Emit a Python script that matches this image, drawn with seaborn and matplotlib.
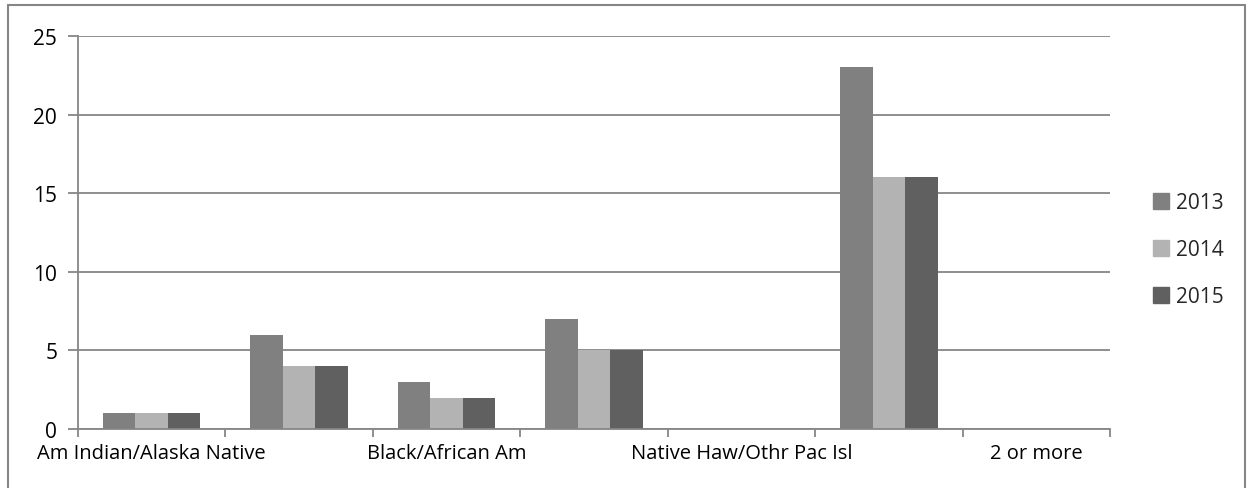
import matplotlib
matplotlib.use('Agg')
import matplotlib.pyplot as plt
import matplotlib.patches as mpatches
import seaborn as sns
import pandas as pd
import numpy as np

# --- datos ---
etiquetas = ['Am Indian/Alaska Native', '', 'Black/African Am', '',
             'Native Haw/Othr Pac Isl', '', '2 or more']
anios = ['2013', '2014', '2015']
v2013 = [1, 6, 3, 7, 0, 23, 0]
v2014 = [1, 4, 2, 5, 0, 16, 0]
v2015 = [1, 4, 2, 5, 0, 16, 0]
colores = ['#808080', '#b3b3b3', '#606060']

filas = []
for anio, serie in zip(anios, [v2013, v2014, v2015]):
    for i, v in enumerate(serie):
        filas.append({'cat': i, 'anio': anio, 'valor': v})
df = pd.DataFrame(filas)

sns.set_style('white')
plt.rcParams['font.family'] = ['Open Sans', 'DejaVu Sans']

fig = plt.figure(figsize=(12.53, 4.89), dpi=100)
ax = fig.add_axes([78 / 1253, 1 - 430 / 489, (1110 - 78) / 1253, (430 - 37) / 489])

sns.barplot(data=df, x='cat', y='valor', hue='anio', hue_order=anios,
            palette=colores, width=0.66, gap=0, saturation=1,
            linewidth=0, ax=ax)

gris = '#868686'
ax.set_ylim(0, 25)
ax.set_xlim(-0.5, len(etiquetas) - 0.5)
ax.set_yticks(np.arange(0, 26, 5))
ax.yaxis.grid(True, color=gris, linewidth=1.3)
ax.set_axisbelow(True)

# ticks entre categorias, etiquetas al centro
ax.set_xticks(np.arange(-0.5, len(etiquetas), 1))
ax.set_xticklabels([])
ax.set_xticks(np.arange(len(etiquetas)), minor=True)
ax.set_xticklabels(etiquetas, minor=True, fontsize=14.5, color='black')
ax.tick_params(axis='x', which='major', length=6, width=1.3, color=gris, direction='out', bottom=True)
ax.tick_params(axis='x', which='minor', length=0, pad=10)
ax.tick_params(axis='y', length=7, width=1.3, color=gris, direction='out', left=True,
               labelsize=15, pad=8, labelcolor='black')

for lado in ['top', 'right']:
    ax.spines[lado].set_visible(False)
for lado in ['left', 'bottom']:
    ax.spines[lado].set_color(gris)
    ax.spines[lado].set_linewidth(1.3)

ax.set_xlabel('')
ax.set_ylabel('')

handles = [mpatches.Patch(color=c, label=a) for c, a in zip(colores, anios)]
ax.legend(handles=handles, loc='center left', bbox_to_anchor=(1.032, 0.456),
          frameon=False, fontsize=15, handlelength=0.75, handleheight=0.75,
          handletextpad=0.35, labelspacing=1.25, borderpad=0)

# borde del grafico
fig.add_artist(mpatches.Rectangle((8 / 1253, -0.05), 1237 / 1253, 1.05 - 6 / 489,
                                  transform=fig.transFigure, fill=False,
                                  edgecolor=gris, linewidth=1.5))

plt.savefig('out.png', dpi=100)
plt.close()
